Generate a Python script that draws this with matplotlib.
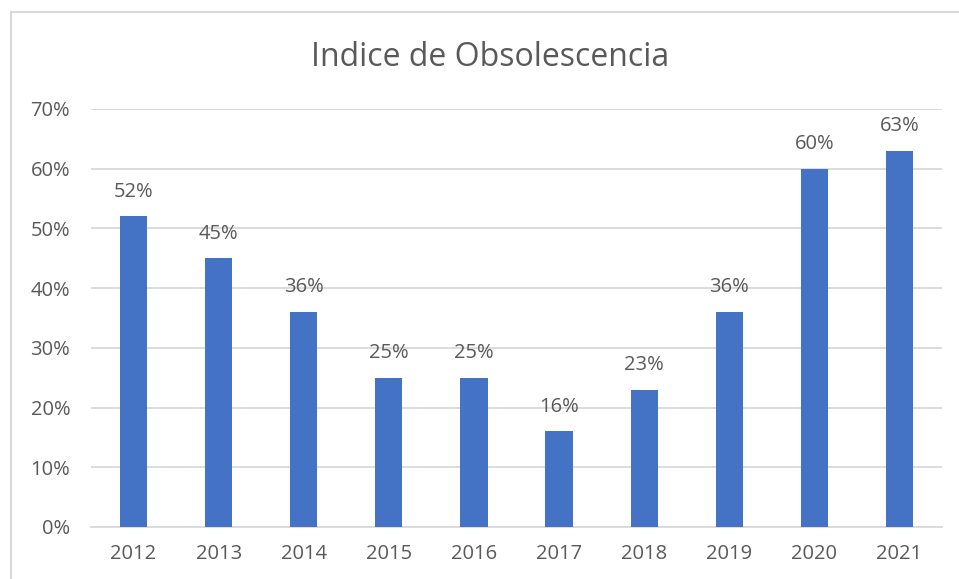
import matplotlib
matplotlib.use("Agg")
import matplotlib.pyplot as plt
from matplotlib.patches import Rectangle
from matplotlib.ticker import FuncFormatter, MultipleLocator

years = ["2012", "2013", "2014", "2015", "2016", "2017", "2018", "2019", "2020", "2021"]
values = [0.52, 0.45, 0.36, 0.25, 0.25, 0.16, 0.23, 0.36, 0.60, 0.63]
title = "Indice de Obsolescencia"

plt.rcParams['font.family'] = ['Open Sans', 'DejaVu Sans']
W, H = 959, 579
fig = plt.figure(figsize=(W / 100, H / 100), dpi=100)
ax = fig.add_axes([91 / W, 1 - 527 / H, (942 - 91) / W, (527 - 109) / H])

text_color = "#595959"
grid_color = "#D9D9D9"
x = range(len(years))
bars = ax.bar(x, values, width=0.32, color="#4472C4", zorder=3)
for xi, v in zip(x, values):
    ax.annotate(f"{round(v * 100):d}%", (xi, v), xytext=(0, 10.5), textcoords="offset points",
                ha="center", va="bottom", fontsize=14.5, color=text_color)

ax.set_xlim(-0.5, len(years) - 0.5)
ax.set_ylim(0, 0.7)
ax.yaxis.set_major_locator(MultipleLocator(0.1))
ax.yaxis.set_major_formatter(FuncFormatter(lambda v, p: f"{round(v * 100):d}%"))
ax.set_xticks(list(x))
ax.set_xticklabels(years)
ax.tick_params(axis="both", length=0, labelsize=14.5, colors=text_color)
ax.tick_params(axis="x", pad=12)
ax.tick_params(axis="y", pad=15)
ax.grid(axis="y", color=grid_color, linewidth=1.3, zorder=0)
for s in ["top", "right", "left"]:
    ax.spines[s].set_visible(False)
ax.spines["bottom"].set_color(grid_color)
ax.spines["bottom"].set_linewidth(1.3)

fig.text(490 / W, 1 - 58 / H, title, ha="center", va="center", fontsize=23, color=text_color)

fig.patches.append(Rectangle((10.5 / W, -0.05), 1.2, 1.05 - 11.5 / H, transform=fig.transFigure,
                             fill=False, edgecolor=grid_color, linewidth=1.5))

fig.savefig("out.png", dpi=100)
